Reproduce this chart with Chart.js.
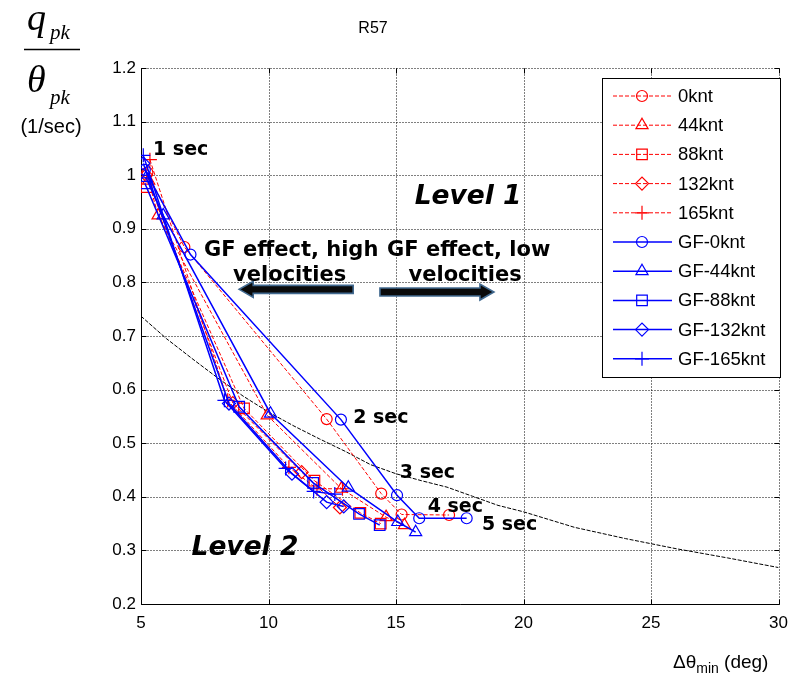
<!DOCTYPE html>
<html>
<head>
<meta charset="utf-8">
<script src="https://cdn.jsdelivr.net/npm/chart.js@4/dist/chart.umd.min.js"></script>
<style>
  html, body { margin: 0; padding: 0; background: #fff; }
  canvas { display: block; }
</style>
</head>
<body>
<canvas id="c" width="797" height="678"></canvas>
<script>
// ---- data -------------------------------------------------------------
const xTickValues = [5, 10, 15, 20, 25, 30];
const yTickValues = [0.2, 0.3, 0.4, 0.5, 0.6, 0.7, 0.8, 0.9, 1.0, 1.1, 1.2];

const seriesLabels = ['0knt', '44knt', '88knt', '132knt', '165knt',
                      'GF-0knt', 'GF-44knt', 'GF-88knt', 'GF-132knt', 'GF-165knt'];

// delta theta min (deg)
const x0knt    = [5.25, 6.70, 12.28, 14.42, 15.22, 17.08];
const x44knt   = [5.30, 5.67, 9.95, 12.86, 14.61, 15.33];
const x88knt   = [5.22, 9.04, 11.80, 13.60, 14.40];
const x132knt  = [5.20, 8.60, 11.30, 12.80];
const x165knt  = [5.35, 8.40, 10.80, 11.90, 12.90];
const xGF0     = [5.15, 6.94, 12.84, 15.04, 15.91, 17.77];
const xGF44    = [5.20, 5.87, 10.08, 13.13, 15.07, 15.77];
const xGF88    = [5.15, 8.85, 11.75, 13.55, 14.36];
const xGF132   = [5.09, 8.45, 10.92, 12.28, 12.95];
const xGF165   = [5.09, 8.27, 10.67, 11.77, 12.60];

// q_pk / theta_pk (1/sec)
const y0knt    = [1.005, 0.866, 0.545, 0.406, 0.367, 0.366];
const y44knt   = [0.990, 0.925, 0.552, 0.415, 0.362, 0.347];
const y88knt   = [0.978, 0.565, 0.430, 0.370, 0.350];
const y132knt  = [1.000, 0.575, 0.446, 0.380];
const y165knt  = [1.029, 0.580, 0.455, 0.415, 0.415];
const yGF0     = [1.010, 0.852, 0.544, 0.403, 0.360, 0.360];
const yGF44    = [0.995, 0.925, 0.555, 0.417, 0.353, 0.334];
const yGF88    = [0.985, 0.568, 0.426, 0.368, 0.347];
const yGF132   = [1.022, 0.574, 0.443, 0.390, 0.382];
const yGF165   = [1.037, 0.580, 0.453, 0.410, 0.405];

// Level 1 / Level 2 boundary
const boundaryX = [5, 6, 7, 8, 9, 10, 11, 12, 13, 14, 15, 16, 17, 18, 19, 20, 22, 24, 26, 28, 30];
const boundaryY = [0.737, 0.695, 0.658, 0.622, 0.588, 0.558, 0.532, 0.508, 0.485, 0.460, 0.443,
                   0.430, 0.418, 0.401, 0.384, 0.372, 0.343, 0.322, 0.303, 0.286, 0.268];

// ---- build datasets -----------------------------------------------------
const xs = [x0knt, x44knt, x88knt, x132knt, x165knt, xGF0, xGF44, xGF88, xGF132, xGF165];
const ys = [y0knt, y44knt, y88knt, y132knt, y165knt, yGF0, yGF44, yGF88, yGF132, yGF165];
const markerStyles = ['circle', 'triangle', 'rect', 'rectRot', 'cross'];
const markerRadii  = [5.5, 7, 7.5, 6.5, 7];

const toPoints = (xa, ya) => xa.map((v, i) => ({ x: v, y: ya[i] }));

const datasets = seriesLabels.map((label, i) => {
  const gf = i >= 5;
  const k = i % 5;
  const col = gf ? '#0000ff' : '#ff0000';
  return {
    label,
    data: toPoints(xs[i], ys[i]),
    showLine: true,
    borderColor: col,
    borderWidth: gf ? 1.5 : 1,
    borderDash: gf ? [] : [4, 2],
    pointStyle: markerStyles[k],
    pointRadius: markerRadii[k],
    pointBorderColor: col,
    pointBackgroundColor: 'rgba(0,0,0,0)',
    pointBorderWidth: 1.2,
    order: gf ? 1 : 2
  };
});

datasets.push({
  label: 'boundary',
  data: toPoints(boundaryX, boundaryY),
  showLine: true,
  borderColor: '#000',
  borderWidth: 1,
  borderDash: [4, 1.5],
  pointRadius: 0,
  hideInLegend: true,
  order: 3
});

// ---- text placed in data coordinates -----------------------------------
const notes = [
  { text: '1 sec', x: 5.47, y: 1.037, font: 'bold 19px "DejaVu Sans"' },
  { text: '2 sec', x: 13.32, y: 0.537, font: 'bold 19px "DejaVu Sans"' },
  { text: '3 sec', x: 15.15, y: 0.436, font: 'bold 19px "DejaVu Sans"' },
  { text: '4 sec', x: 16.24, y: 0.372, font: 'bold 19px "DejaVu Sans"' },
  { text: '5 sec', x: 18.37, y: 0.3375, font: 'bold 19px "DejaVu Sans"' },
  { text: 'Level 1', x: 15.73, y: 0.946, font: 'italic bold 26.5px "DejaVu Sans"' },
  { text: 'Level 2', x: 6.98, y: 0.291, font: 'italic bold 26.5px "DejaVu Sans"' },
  { text: 'GF effect, high', x: 10.89, y: 0.850, font: 'bold 21px "DejaVu Sans"', align: 'center' },
  { text: 'velocities', x: 10.83, y: 0.802, font: 'bold 21px "DejaVu Sans"', align: 'center' },
  { text: 'GF effect, low', x: 17.85, y: 0.850, font: 'bold 21px "DejaVu Sans"', align: 'center' },
  { text: 'velocities', x: 17.71, y: 0.802, font: 'bold 21px "DejaVu Sans"', align: 'center' }
];
const arrows = [
  { from: 13.32, to: 8.85, y: 0.787 },
  { from: 14.37, to: 18.84, y: 0.782 }
];

// ---- drawing helpers ---------------------------------------------------
function seg(ctx, x1, y1, x2, y2) {
  ctx.beginPath(); ctx.moveTo(x1, y1); ctx.lineTo(x2, y2); ctx.stroke();
}

// dotted grid (incl. top/right edges), solid left/bottom axes, inward ticks
const frame = {
  id: 'frame',
  beforeDatasetsDraw(chart) {
    const { ctx, chartArea: a, scales: { x, y } } = chart;
    const L = Math.round(a.left) + 0.5, R = Math.round(a.right) + 0.5;
    const T = Math.round(a.top) + 0.5, B = Math.round(a.bottom) + 0.5;
    ctx.save();
    ctx.strokeStyle = '#000';
    ctx.lineWidth = 1;
    ctx.setLineDash([1, 2]);
    x.ticks.forEach(t => {
      const px = Math.round(x.getPixelForValue(t.value)) + 0.5;
      seg(ctx, px, T, px, B);
    });
    y.ticks.forEach(t => {
      const py = Math.round(y.getPixelForValue(t.value)) + 0.5;
      seg(ctx, L, py, R, py);
    });
    ctx.setLineDash([]);
    seg(ctx, L, T, L, B);
    seg(ctx, L, B, R, B);
    x.ticks.forEach(t => {
      const px = Math.round(x.getPixelForValue(t.value)) + 0.5;
      seg(ctx, px, B, px, B - 5);
      seg(ctx, px, T, px, T + 5);
    });
    y.ticks.forEach(t => {
      const py = Math.round(y.getPixelForValue(t.value)) + 0.5;
      seg(ctx, L, py, L + 5, py);
      seg(ctx, R, py, R - 5, py);
    });
    ctx.restore();
  }
};

const decorations = {
  id: 'decorations',
  afterDraw(chart) {
    const { ctx, scales: { x, y } } = chart;
    ctx.save();

    // arrows
    arrows.forEach(ar => {
      const x1 = x.getPixelForValue(ar.from);
      const x2 = x.getPixelForValue(ar.to);
      const cy = y.getPixelForValue(ar.y);
      const dir = Math.sign(x2 - x1);
      const head = 14, half = 8, shaft = 4;
      ctx.beginPath();
      ctx.moveTo(x1, cy - shaft);
      ctx.lineTo(x2 - dir * head, cy - shaft);
      ctx.lineTo(x2 - dir * head, cy - half);
      ctx.lineTo(x2, cy);
      ctx.lineTo(x2 - dir * head, cy + half);
      ctx.lineTo(x2 - dir * head, cy + shaft);
      ctx.lineTo(x1, cy + shaft);
      ctx.closePath();
      ctx.fillStyle = '#0a0a0a';
      ctx.fill();
      ctx.strokeStyle = '#41698f';
      ctx.lineWidth = 1.6;
      ctx.stroke();
    });

    // text notes
    ctx.fillStyle = '#000';
    ctx.textBaseline = 'alphabetic';
    notes.forEach(n => {
      ctx.font = n.font;
      ctx.textAlign = n.align || 'left';
      ctx.fillText(n.text, x.getPixelForValue(n.x), y.getPixelForValue(n.y));
    });

    // legend box
    const L = { left: 602.5, top: 78.5, right: 780.5, bottom: 377.5 };
    ctx.fillStyle = '#fff';
    ctx.fillRect(L.left, L.top, L.right - L.left, L.bottom - L.top);
    ctx.strokeStyle = '#000';
    ctx.lineWidth = 1;
    ctx.strokeRect(L.left, L.top, L.right - L.left, L.bottom - L.top);
    let row = 0;
    chart.data.datasets.forEach(ds => {
      if (ds.hideInLegend) return;
      const cy = 96 + row * 29.2;
      row++;
      ctx.strokeStyle = ds.borderColor;
      ctx.lineWidth = ds.borderWidth;
      ctx.setLineDash(ds.borderDash);
      seg(ctx, 613, cy, 672, cy);
      ctx.setLineDash([]);
      ctx.fillStyle = 'rgba(0,0,0,0)';
      ctx.lineWidth = 1.2;
      Chart.helpers.drawPoint(ctx, {
        pointStyle: ds.pointStyle, radius: ds.pointRadius, borderWidth: 1.2, rotation: 0
      }, 642, cy);
      ctx.fillStyle = '#000';
      ctx.font = '18.5px "Liberation Sans"';
      ctx.textAlign = 'left';
      ctx.textBaseline = 'middle';
      ctx.fillText(ds.label, 678, cy + 1);
    });

    // title
    ctx.fillStyle = '#000';
    ctx.textBaseline = 'alphabetic';
    ctx.textAlign = 'center';
    ctx.font = '16px "Liberation Sans"';
    ctx.fillText('R57', 373, 33);

    // y-axis title: q_pk / theta_pk (1/sec)
    ctx.textAlign = 'left';
    ctx.font = 'italic 38px "Liberation Serif"';
    ctx.fillText('q', 27, 30);
    ctx.font = 'italic 21px "Liberation Serif"';
    ctx.fillText('pk', 50, 39);
    ctx.strokeStyle = '#000';
    ctx.lineWidth = 1.5;
    seg(ctx, 24, 49.5, 80, 49.5);
    ctx.font = 'italic 38px "Liberation Serif"';
    ctx.fillText('\u03b8', 27, 92);
    ctx.font = 'italic 21px "Liberation Serif"';
    ctx.fillText('pk', 50, 104);
    ctx.textAlign = 'center';
    ctx.font = '20px "Liberation Sans"';
    ctx.fillText('(1/sec)', 51, 133);

    // x-axis title: delta theta_min (deg)
    ctx.textAlign = 'left';
    let tx = 673;
    ctx.font = '19px "Liberation Sans"';
    ctx.fillText('\u0394\u03b8', tx, 668);
    tx += ctx.measureText('\u0394\u03b8').width;
    ctx.font = '14px "Liberation Sans"';
    ctx.fillText('min', tx, 673);
    tx += ctx.measureText('min').width;
    ctx.font = '19px "Liberation Sans"';
    ctx.fillText(' (deg)', tx, 668);

    ctx.restore();
  }
};

// ---- chart -------------------------------------------------------------
new Chart(document.getElementById('c'), {
  type: 'scatter',
  data: { datasets },
  options: {
    responsive: false,
    animation: false,
    devicePixelRatio: 1,
    layout: { padding: { left: 0, top: 68, right: 13, bottom: 0 } },
    plugins: { legend: { display: false }, tooltip: { enabled: false }, title: { display: false } },
    scales: {
      x: {
        type: 'linear',
        min: 5, max: 30,
        afterBuildTicks: s => { s.ticks = xTickValues.map(v => ({ value: v })); },
        afterFit: s => { s.height = 74; },
        grid: { display: false, drawTicks: false },
        border: { display: false },
        ticks: {
          color: '#000', padding: 9,
          font: { family: '"Liberation Sans"', size: 17 },
          maxRotation: 0,
          callback: v => String(v)
        }
      },
      y: {
        type: 'linear',
        min: 0.2, max: 1.2,
        afterBuildTicks: s => { s.ticks = yTickValues.map(v => ({ value: v })); },
        afterFit: s => { s.width = 141; },
        grid: { display: false, drawTicks: false },
        border: { display: false },
        ticks: {
          color: '#000', padding: 5,
          font: { family: '"Liberation Sans"', size: 17 },
          callback: v => String(Number(v.toFixed(1)))
        }
      }
    }
  },
  plugins: [frame, decorations]
});
</script>
</body>
</html>
